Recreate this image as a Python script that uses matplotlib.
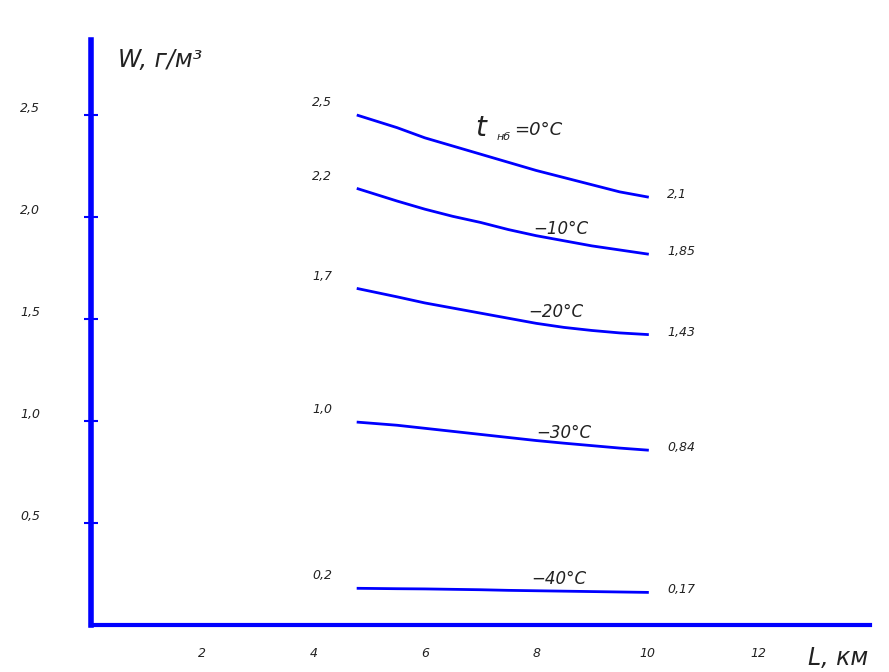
import matplotlib.pyplot as plt

# distance, km
dist = [4.8, 5.5, 6, 6.5, 7, 7.5, 8, 8.5, 9, 9.5, 10]

# moisture content W, g/m3 for each outdoor temperature
w_0 = [2.5, 2.44, 2.39, 2.35, 2.31, 2.27, 2.23, 2.195, 2.16, 2.125, 2.1]
w_m10 = [2.14, 2.08, 2.04, 2.005, 1.975, 1.94, 1.91, 1.885, 1.86, 1.84, 1.82]
w_m20 = [1.65, 1.61, 1.58, 1.555, 1.53, 1.505, 1.48, 1.46, 1.445, 1.433, 1.425]
w_m30 = [0.995, 0.98, 0.965, 0.95, 0.935, 0.92, 0.905, 0.892, 0.88, 0.868, 0.858]
w_m40 = [0.18, 0.178, 0.177, 0.175, 0.173, 0.17, 0.168, 0.166, 0.164, 0.162, 0.16]

start_labels = ['2,5', '2,2', '1,7', '1,0', '0,2']
end_labels = ['2,1', '1,85', '1,43', '0,84', '0,17']
temp_labels = ['−10°C', '−20°C', '−30°C', '−40°C']

x_ticks = [2, 4, 6, 8, 10, 12]
y_ticks = [0.5, 1.0, 1.5, 2.0, 2.5]
y_tick_labels = ['0,5', '1,0', '1,5', '2,0', '2,5']

blue = '#0000ff'
txt = '#222222'

fig = plt.figure(figsize=(8.89, 6.72), dpi=100)
ax = fig.add_axes([91/889, 47/672, 779/889, 585/672])

curves = [w_0, w_m10, w_m20, w_m30, w_m40]
for w in curves:
  ax.plot(dist, w, color=blue, linewidth=2)

ax.set_xlim(0, 14.0)
ax.set_ylim(0, 2.87)

# spines
for s in ['top', 'right']:
  ax.spines[s].set_visible(False)
ax.spines['left'].set_color(blue)
ax.spines['left'].set_linewidth(4)
ax.spines['bottom'].set_color(blue)
ax.spines['bottom'].set_linewidth(3)

ax.set_xticks(x_ticks)
ax.set_xticklabels([str(t) for t in x_ticks])
ax.set_yticks(y_ticks)
ax.set_yticklabels(y_tick_labels)
ax.tick_params(axis='y', direction='inout', length=10, width=1.5, color=blue,
               pad=46, labelsize=9, labelcolor=txt)
ax.tick_params(axis='x', direction='inout', length=3, width=4, color=blue,
               pad=14, labelsize=9, labelcolor=txt)
for lab in ax.get_xticklabels() + ax.get_yticklabels():
  lab.set_style('italic')
for lab in ax.get_yticklabels():
  lab.set_horizontalalignment('left')
  lab.set_verticalalignment('bottom')

# value labels at ends of curves
for w, lab in zip(curves, start_labels):
  ax.text(4.15, w[0] + 0.03, lab, fontsize=9, style='italic', color=txt,
          ha='center', va='bottom')
for w, lab in zip(curves, end_labels):
  ax.text(10.35, w[-1] - 0.02, lab, fontsize=9, style='italic', color=txt,
          ha='left', va='bottom')

# temperature labels
ax.text(6.9, 2.37, 't', fontsize=20, style='italic', color=txt, ha='left', va='bottom')
ax.text(7.28, 2.37, 'нб', fontsize=8, style='italic', color=txt, ha='left', va='bottom')
ax.text(7.6, 2.385, '=0°C', fontsize=13, style='italic', color=txt, ha='left', va='bottom')
temp_pos = [(8.45, 1.9), (8.35, 1.49), (8.5, 0.9), (8.4, 0.18)]
for (tx, ty), lab in zip(temp_pos, temp_labels):
  ax.text(tx, ty, lab, fontsize=12, style='italic', color=txt, ha='center', va='bottom')

# axis titles
fig.text(118/889, 1 - 60/672, 'W, г/м³', fontsize=17, style='italic', color=txt,
         ha='left', va='center')
fig.text(808/889, 1 - 658/672, 'L, км', fontsize=17, style='italic', color=txt,
         ha='left', va='center')

fig.savefig('out.png', dpi=100)
